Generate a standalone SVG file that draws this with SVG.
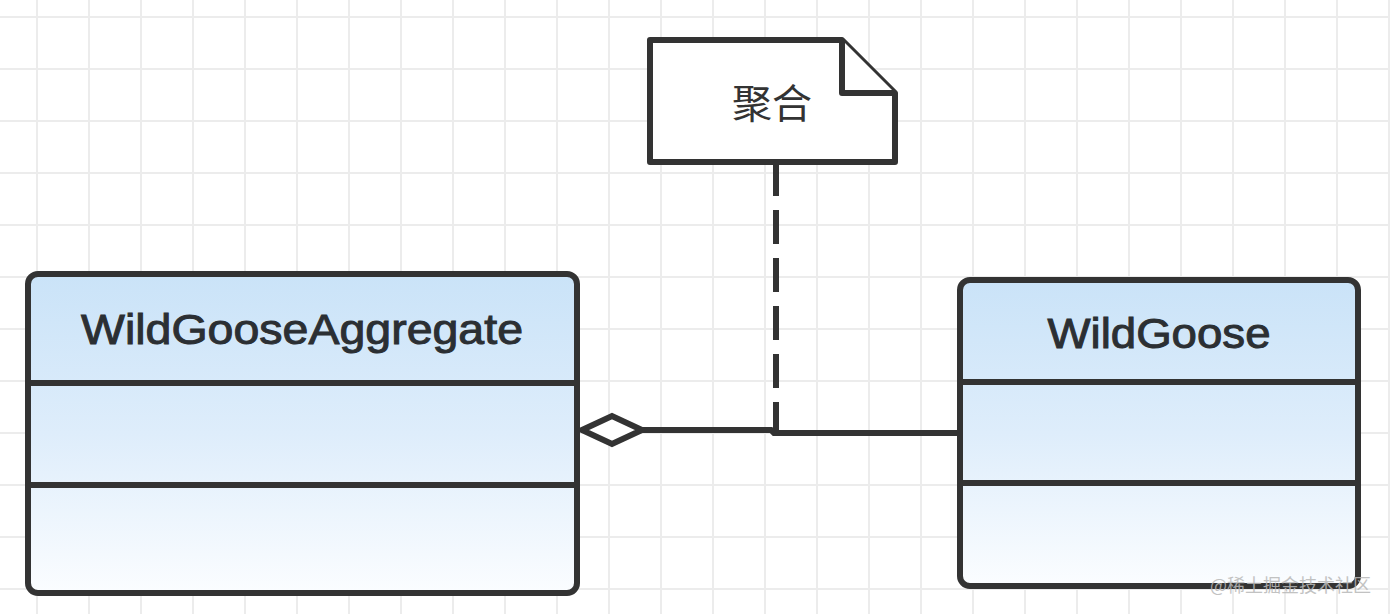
<svg xmlns="http://www.w3.org/2000/svg" width="1390" height="614" viewBox="0 0 1390 614">
<defs>
<linearGradient id="cls" x1="0" y1="0" x2="0" y2="1">
<stop offset="0" stop-color="#cae3f8"/>
<stop offset="0.5" stop-color="#deedfb"/>
<stop offset="1" stop-color="#fbfdff"/>
</linearGradient>
<pattern id="grid" x="11" y="-9" width="52" height="52" patternUnits="userSpaceOnUse">
<path d="M26,0 V52 M0,26 H52" stroke="#ececec" stroke-width="2" fill="none"/>
</pattern>
</defs>
<style>
.box{fill:url(#cls);stroke:#333;stroke-width:6}
.div{stroke:#333;stroke-width:6}
.name{font-family:"Liberation Sans",Arial,sans-serif;font-size:43px;fill:#2b2f33;stroke:#2b2f33;stroke-width:1;text-anchor:middle}
.note{fill:#fff;stroke:#333;stroke-width:6;stroke-linejoin:round}
.notetxt{font-family:"Noto Sans CJK SC","Noto Sans",sans-serif;font-size:40px;fill:#333;text-anchor:middle}
.edge{fill:none;stroke:#333;stroke-width:6}
.wm{font-family:"Noto Sans CJK SC","Noto Sans",sans-serif;font-size:18px;fill:#b8b8b8;opacity:0.85}
</style>
<rect width="1390" height="614" fill="#fff"/>
<rect width="1390" height="614" fill="url(#grid)"/>
<g id="connectors">
<path class="edge" d="M776,162 V430" stroke-dasharray="34,14"/>
<path class="edge" d="M582,430 H771 L774,433 H960"/>
<path d="M582,430 L612,416 L642,430 L612,444 Z" fill="#fff" stroke="#333" stroke-width="6"/>
</g>
<g id="note">
<path class="note" d="M650,40 H842 L895,93 V162 H650 Z"/>
<path class="note" d="M842,40 V93 H895" fill="none"/>
<text class="notetxt" x="772" y="118">聚合</text>
</g>
<g id="WildGooseAggregate">
<rect class="box" x="28" y="274" width="549" height="319" rx="10"/>
<line class="div" x1="28" y1="383" x2="577" y2="383"/>
<line class="div" x1="28" y1="485" x2="577" y2="485"/>
<text class="name" x="302" y="344" textLength="442" lengthAdjust="spacingAndGlyphs">WildGooseAggregate</text>
</g>
<g id="WildGoose">
<rect class="box" x="960" y="280" width="398" height="306" rx="10"/>
<line class="div" x1="960" y1="382" x2="1358" y2="382"/>
<line class="div" x1="960" y1="483" x2="1358" y2="483"/>
<text class="name" x="1159" y="348" textLength="223" lengthAdjust="spacingAndGlyphs">WildGoose</text>
</g>
<text class="wm" x="1210" y="592">@稀土掘金技术社区</text>
</svg>
